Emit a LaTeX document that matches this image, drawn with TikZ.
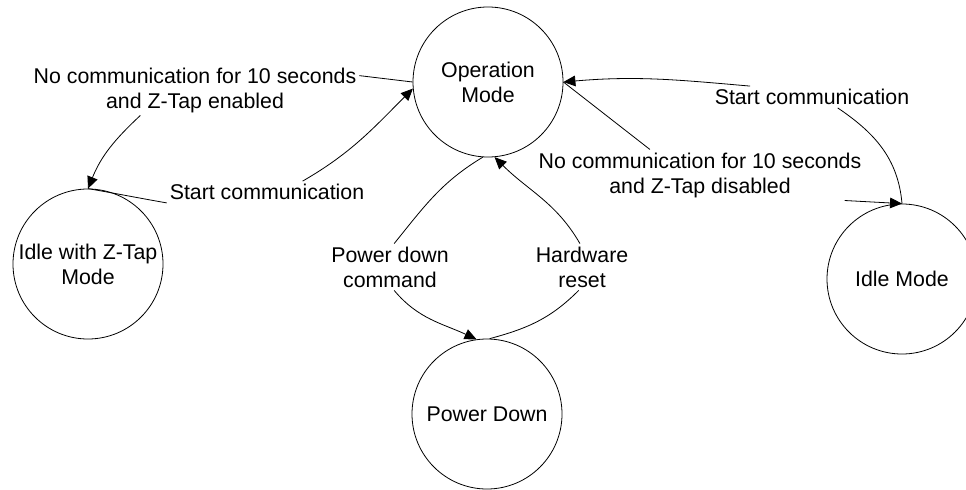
\documentclass[tikz,border=0pt]{standalone}
\usepackage{fontspec}
\setmainfont{Liberation Sans}
\usetikzlibrary{arrows.meta}

\begin{document}
\begin{tikzpicture}[x=0.75pt,y=0.75pt,line width=0.6pt,>={Triangle[length=9pt,width=8pt]}]
        \tikzstyle{every node}=[font=\fontsize{16}{18.75}\selectfont,align=center]
        \tikzstyle{state}=[draw,circle,minimum size=112.5pt,inner sep=0pt]
        \tikzstyle{lbl}=[inner sep=2pt]
        \clip (0,0) rectangle (966,-489);
        % states
        \node[state] (op) at (488,-82) {Operation\\Mode};
        \node[state] (idlez) at (88,-264) {Idle with Z-Tap\\Mode};
        \node[state] (pd) at (487,-414) {Power Down};
        \node[state] (idle) at (902,-279) {Idle Mode};
        % transition labels
        \node[lbl] (en) at (195,-90) {No communication for 10 seconds\\and Z-Tap enabled};
        \node[lbl] (scl) at (267,-192) {Start communication};
        \node[lbl] (scr) at (812,-97) {Start communication};
        \node[lbl] (dis) at (700,-175) {No communication for 10 seconds\\and Z-Tap disabled};
        \node[lbl] (pdc) at (390,-267) {Power down\\command};
        \node[lbl] (hwr) at (582,-267) {Hardware\\reset};
        % transitions
        \draw (op.west) -- (en.5);
        \draw[->] (en.205) to[out=223,in=68] (idlez.north);
        \draw (idlez.north) to[out=-10,in=170] (scl.south west);
        \draw[->] (scl.17) to[out=30,in=225] (op.185);
        \draw (op.266) to[out=211,in=51] (pdc.80);
        \draw[->] (pdc.280) to[out=-50,in=155] (pd.98);
        \draw (pd.88) to[out=15,in=225] (hwr.262);
        \draw[->] (hwr.95) to[out=120,in=-45] (op.275);
        \draw (op.east) -- (dis.153);
        \draw[->] (dis.-10) -- (idle.north);
        \draw (idle.north) to[out=95,in=-34] (scr.-23);
        \draw[->] (scr.170) to[out=175,in=5] (op.east);
\end{tikzpicture}
\end{document}
